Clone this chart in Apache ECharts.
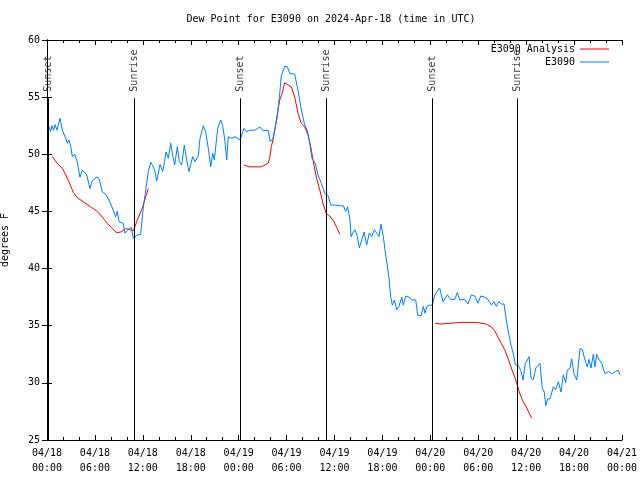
<!DOCTYPE html>
<html><head><meta charset="utf-8">
<script src="https://cdn.jsdelivr.net/npm/echarts@6/dist/echarts.min.js"></script>
<style>html,body{margin:0;padding:0;background:#fff}#c{width:640px;height:480px}</style>
</head><body><div id="c"></div>
<script>
// hours since 2024-04-18 00:00 UTC
const xTickHours = [0,6,12,18,24,30,36,42,48,54,60,66,72];
const yTickValues = [25,30,35,40,45,50,55,60];

const blueHours = [0.13,0.25,0.44,0.63,0.81,1.00,1.25,1.63,1.92,2.34,2.54,2.75,2.97,3.17,3.47,3.79,4.13,4.42,4.97,5.38,5.67,6.22,6.51,6.93,7.35,7.76,8.18,8.60,8.80,9.02,9.55,9.73,10.27,10.56,10.81,11.23,11.73,12.08,12.27,12.48,12.68,12.99,13.31,13.52,13.74,14.15,14.49,14.65,14.90,15.19,15.49,15.74,15.99,16.32,16.57,16.87,17.19,17.49,17.78,17.99,18.24,18.53,18.95,19.16,19.57,19.87,20.20,20.50,20.75,20.95,21.38,21.75,22.00,22.29,22.50,22.70,23.13,23.54,24.17,24.67,24.96,25.38,26.01,26.64,27.05,27.68,27.96,28.30,28.51,28.84,29.14,29.34,29.77,30.09,30.39,31.02,31.34,31.64,31.93,32.27,32.60,32.90,33.18,33.60,33.93,34.35,34.77,35.19,35.53,36.03,36.65,37.10,37.40,37.65,37.94,38.07,38.36,38.57,38.86,39.11,39.41,39.70,40.03,40.36,40.66,40.99,41.29,41.57,41.82,42.11,42.33,42.54,42.83,43.04,43.24,43.49,43.79,44.08,44.42,44.62,44.92,45.33,45.67,46.17,46.42,46.83,47.12,47.33,47.58,47.87,48.25,48.55,49.17,49.59,50.13,50.55,51.05,51.38,51.68,52.31,52.72,53.13,53.56,53.97,54.31,54.81,55.22,55.64,55.97,56.26,56.56,56.89,57.23,57.51,57.81,58.14,58.48,58.64,58.98,59.32,59.61,59.89,60.23,60.36,60.61,60.90,61.20,61.73,62.02,62.27,62.45,62.70,62.99,63.40,63.70,64.03,64.36,64.65,64.95,65.15,65.49,65.70,65.99,66.33,66.45,66.74,67.03,67.37,67.66,67.87,68.12,68.41,68.62,68.83,69.12,69.46,69.87,70.29,70.71,71.21,71.54,71.75];
const blueValues = [52.1,52.4,52.0,52.5,52.1,52.6,52.1,53.15,52.1,51.4,50.96,51.25,50.67,49.8,50.0,49.35,48.0,48.6,48.2,47.0,47.7,48.0,47.9,46.7,46.5,46.0,45.3,44.54,45.0,44.1,43.96,43.1,43.5,43.6,42.65,42.9,43.0,45.5,46.4,47.46,48.48,49.3,48.9,48.5,47.66,49.1,48.5,49.06,50.2,49.65,50.96,49.9,49.06,50.67,49.35,49.06,50.8,49.5,48.48,48.6,49.8,49.35,49.9,51.4,52.5,51.98,50.5,48.9,50.09,49.5,52.27,53.0,52.5,51.1,49.5,51.54,51.4,51.54,51.25,52.27,51.98,52.1,52.1,52.4,52.06,52.1,51.1,51.4,51.54,53.3,55.3,56.9,57.7,57.66,57.1,57.0,55.9,54.75,53.6,52.56,52.1,50.96,49.65,49.2,48.2,47.46,46.6,46.4,45.56,45.56,45.5,45.5,45.0,45.4,44.25,42.8,43.2,43.4,42.8,41.8,42.5,43.2,42.06,43.1,42.8,43.4,43.1,42.8,43.9,42.8,41.6,40.6,39.15,37.5,36.8,37.25,36.4,36.7,37.5,36.8,37.6,37.5,37.25,37.25,35.9,35.85,36.7,36.1,36.7,36.8,36.8,37.7,38.3,37.1,37.7,37.3,37.3,37.9,37.25,37.3,36.9,37.7,37.6,36.96,37.6,37.5,37.3,36.8,37.1,36.7,37.1,36.9,36.9,35.5,34.3,33.2,32.3,31.56,31.56,31.1,30.25,31.7,32.1,32.3,30.4,30.3,31.3,31.7,29.5,29.2,28.0,28.6,28.6,29.65,29.4,30.1,29.2,30.7,30.0,31.1,31.3,32.1,30.8,30.25,31.0,33.0,32.9,32.0,31.4,32.05,31.3,32.5,31.4,32.5,32.05,31.7,30.8,31.0,30.8,31.0,31.1,30.7];

const redHours1 = [0.66,1.29,1.92,2.34,2.75,3.29,3.79,4.63,5.47,6.30,6.92,7.55,8.18,8.73,9.23,9.85,10.39,10.81,11.31,11.93,12.46,12.68];
const redValues1 = [49.8,49.2,48.77,48.2,47.6,46.67,46.2,45.8,45.4,45.0,44.5,43.96,43.5,43.14,43.2,43.5,43.4,43.3,44.25,45.3,46.5,47.0];
const redHours2 = [24.67,25.38,26.83,27.67,27.88,28.09,28.30,28.59,28.93,29.14,29.43,29.77,30.18,30.59,31.02,31.43,31.84,32.27,32.68,33.02,33.31,33.72,34.15,34.56,34.97,35.40,35.94,36.35,36.65];
const redValues2 = [49.06,48.9,48.9,49.2,49.65,50.67,51.25,52.4,53.9,54.75,55.3,56.27,56.06,55.9,55.0,53.6,52.7,52.4,51.7,50.67,49.5,48.0,46.9,45.7,44.8,44.6,44.1,43.5,43.0];
const redHours3 = [48.62,49.37,50.21,52.09,53.97,55.01,55.64,56.06,56.47,56.89,57.31,57.73,58.14,58.57,58.89,59.19,59.52,60.07,60.69];
const redValues3 = [35.2,35.15,35.2,35.3,35.27,35.15,34.9,34.56,34.0,33.45,32.9,32.15,31.3,30.5,29.8,29.1,28.5,27.8,26.9];

const sunNames = ['Sunset','Sunrise','Sunset','Sunrise','Sunset','Sunrise'];
const sunHours = [0.16,10.93,24.23,35.0,48.25,58.89];

const FONT = 'DejaVu Sans Mono';
const pair = (hs, vs) => hs.map((h, i) => [h, vs[i]]);
const pad = n => (n < 10 ? '0' : '') + n;
const fmtX = h => {
  const day = 18 + Math.floor(h / 24);
  return '04/' + pad(day) + '\n' + pad(h % 24) + ':00';
};
const axisCommon = {
  axisLine: {show: true, lineStyle: {color: '#000', width: 1}},
  axisTick: {show: true, inside: true, length: 5, lineStyle: {color: '#000', width: 1}},
  splitLine: {show: false}
};
const redSeries = [pair(redHours1, redValues1), pair(redHours2, redValues2), pair(redHours3, redValues3)].map(d => ({
  name: 'E3090 Analysis', type: 'line', data: d, symbol: 'none', showSymbol: false,
  lineStyle: {color: '#ff0000', width: 1}, itemStyle: {color: '#ff0000'}, z: 3
}));

const chart = echarts.init(document.getElementById('c'), null, {renderer: 'canvas'});
chart.setOption({
  animation: false,
  backgroundColor: '#ffffff',
  textStyle: {fontFamily: FONT},
  title: {
    text: 'Dew Point for E3090 on 2024-Apr-18 (time in UTC)',
    left: 331, top: 14, textAlign: 'center', padding: 0,
    textStyle: {fontFamily: FONT, fontSize: 10, fontWeight: 'normal', color: '#000'}
  },
  legend: {
    data: ['E3090 Analysis', 'E3090'], orient: 'vertical', right: 31, top: 43, padding: 0,
    align: 'right', icon: 'rect', itemWidth: 29, itemHeight: 1, itemGap: 1,
    textStyle: {fontFamily: FONT, fontSize: 10, color: '#000', lineHeight: 12}
  },
  grid: {left: 47, right: 18, top: 40, bottom: 40, outerBoundsMode: 'none'},
  xAxis: [
    Object.assign({}, axisCommon, {
      type: 'value', min: 0, max: 72, interval: 6, position: 'bottom',
      minorTick: {show: true, splitNumber: 3, length: 3, lineStyle: {color: '#000'}},
      minorSplitLine: {show: false},
      axisLabel: {formatter: fmtX, fontFamily: FONT, fontSize: 10, color: '#000', lineHeight: 15, margin: 6, showMinLabel: true, showMaxLabel: true}
    }),
    Object.assign({}, axisCommon, {
      type: 'value', min: 0, max: 72, interval: 6, position: 'top',
      minorTick: {show: true, splitNumber: 3, length: 3, lineStyle: {color: '#000'}},
      axisLabel: {show: false}
    })
  ],
  yAxis: [
    Object.assign({}, axisCommon, {
      type: 'value', min: 25, max: 60, interval: 5, position: 'left',
      name: 'degrees F', nameLocation: 'middle', nameGap: 37, nameRotate: 90,
      nameTextStyle: {fontFamily: FONT, fontSize: 10, color: '#000'},
      axisLabel: {fontFamily: FONT, fontSize: 10, color: '#000', margin: 7}
    }),
    Object.assign({}, axisCommon, {
      type: 'value', min: 25, max: 60, interval: 5, position: 'right',
      axisLabel: {show: false}
    })
  ],
  series: redSeries.concat([
    {
      name: 'E3090', type: 'line', data: pair(blueHours, blueValues), symbol: 'none', showSymbol: false,
      lineStyle: {color: '#0080ff', width: 1}, itemStyle: {color: '#0080ff'}, z: 4
    },
    {
      name: 'sun', type: 'scatter', symbolSize: 1, itemStyle: {color: 'rgba(0,0,0,0)'}, z: 5,
      data: sunHours.map((h, i) => ({value: [h, 55.48], name: sunNames[i]})),
      label: {show: true, formatter: '{b}', position: 'inside', rotate: 90, align: 'left', verticalAlign: 'middle',
        fontFamily: FONT, fontSize: 10, color: '#000'},
      markLine: {
        silent: true, symbol: ['none', 'none'], label: {show: false},
        lineStyle: {color: '#000', width: 1, type: 'solid'},
        data: sunHours.map(h => [{coord: [h, 25]}, {coord: [h, 54.9]}])
      }
    }
  ])
});
</script></body></html>
